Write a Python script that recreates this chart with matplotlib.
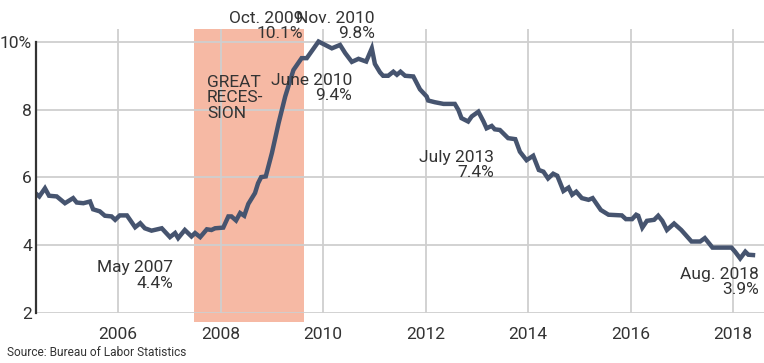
"""Unemployment rate 2004-2018 with the Great Recession shaded."""

import matplotlib

matplotlib.use("Agg")
import matplotlib.pyplot as plt  # noqa: E402

# decimal year, unemployment rate (%)
YEARS = [
    2004.38, 2004.46, 2004.57, 2004.65, 2004.80, 2004.96, 2005.12, 2005.19,
    2005.32, 2005.45, 2005.51, 2005.64, 2005.74, 2005.87, 2005.94, 2006.03,
    2006.17, 2006.23, 2006.33, 2006.43, 2006.52, 2006.65, 2006.85, 2007.01,
    2007.11, 2007.17, 2007.30, 2007.43, 2007.50, 2007.60, 2007.73, 2007.82,
    2007.89, 2008.05, 2008.15, 2008.21, 2008.30, 2008.38, 2008.46, 2008.54,
    2008.67, 2008.73, 2008.79, 2008.88, 2009.00, 2009.13, 2009.26, 2009.42,
    2009.58, 2009.68, 2009.91, 2010.04, 2010.17, 2010.33, 2010.43, 2010.56,
    2010.69, 2010.84, 2010.95, 2011.01, 2011.11, 2011.17, 2011.27, 2011.37,
    2011.44, 2011.51, 2011.60, 2011.76, 2011.89, 2012.02, 2012.05, 2012.18,
    2012.35, 2012.57, 2012.64, 2012.70, 2012.83, 2012.90, 2013.03, 2013.13,
    2013.19, 2013.29, 2013.35, 2013.45, 2013.61, 2013.75, 2013.84, 2013.97,
    2014.10, 2014.21, 2014.30, 2014.39, 2014.49, 2014.57, 2014.69, 2014.79,
    2014.86, 2014.94, 2015.05, 2015.18, 2015.26, 2015.42, 2015.57, 2015.83,
    2015.91, 2016.03, 2016.11, 2016.15, 2016.23, 2016.32, 2016.46, 2016.54,
    2016.62, 2016.71, 2016.85, 2016.99, 2017.19, 2017.36, 2017.45, 2017.60,
    2017.97, 2018.04, 2018.14, 2018.24, 2018.30, 2018.39,
]
RATES = [
    5.54, 5.44, 5.68, 5.46, 5.44, 5.24, 5.39, 5.26,
    5.24, 5.29, 5.06, 5.00, 4.87, 4.85, 4.75, 4.88,
    4.88, 4.75, 4.53, 4.65, 4.50, 4.43, 4.50, 4.24,
    4.36, 4.21, 4.45, 4.26, 4.36, 4.24, 4.47, 4.45,
    4.50, 4.52, 4.85, 4.85, 4.73, 4.95, 4.87, 5.22,
    5.54, 5.83, 6.01, 6.03, 6.72, 7.60, 8.39, 9.17,
    9.52, 9.52, 10.01, 9.91, 9.81, 9.91, 9.67, 9.41,
    9.50, 9.42, 9.81, 9.35, 9.10, 9.00, 9.00, 9.12,
    9.03, 9.12, 9.00, 8.98, 8.60, 8.39, 8.27, 8.22,
    8.17, 8.17, 7.99, 7.75, 7.65, 7.80, 7.94, 7.65,
    7.45, 7.52, 7.42, 7.40, 7.16, 7.13, 6.76, 6.51,
    6.64, 6.22, 6.17, 5.97, 6.11, 6.05, 5.60, 5.70,
    5.49, 5.58, 5.39, 5.34, 5.39, 5.04, 4.90, 4.88,
    4.77, 4.77, 4.90, 4.87, 4.52, 4.72, 4.75, 4.87,
    4.72, 4.45, 4.64, 4.45, 4.11, 4.11, 4.21, 3.93,
    3.93, 3.81, 3.61, 3.81, 3.72, 3.71,
]

RECESSION = (2007.48, 2009.63)
X_TICKS = [2006, 2008, 2010, 2012, 2014, 2016, 2018]
Y_TICKS = [2, 4, 6, 8, 10]
Y_LABELS = ["2", "4", "6", "8", "10%"]

# (text, x, y, ha) callouts
CALLOUTS = [
    ("Oct. 2009\n10.1%", 2009.607, 10.47, "right"),
    ("Nov. 2010\n9.8%", 2011.012, 10.47, "right"),
    ("June 2010\n9.4%", 2010.563, 8.64, "right"),
    ("July 2013\n7.4%", 2013.335, 6.37, "right"),
    ("May 2007\n4.4%", 2007.069, 3.10, "right"),
    ("Aug. 2018\n3.9%", 2018.508, 2.92, "right"),
    ("GREAT\nRECES-\nSION", 2007.733, 8.35, "left"),
]

LINE_COLOR = "#46546f"
SHADE_COLOR = "#f6b9a4"
TEXT_COLOR = "#333333"

plt.rcParams["font.family"] = ["Roboto", "DejaVu Sans"]

fig = plt.figure(figsize=(7.64, 3.63), dpi=100)
ax = fig.add_axes([0.0471, 0.1377, 0.9529, 0.7824])

ax.axvspan(*RECESSION, ymin=-0.032, ymax=1.0, color=SHADE_COLOR,
           linewidth=0, zorder=0.2, clip_on=False)
ax.plot(YEARS, RATES, color=LINE_COLOR, linewidth=3.2,
        solid_joinstyle="miter", zorder=3)

ax.set_xlim(2004.395, 2018.605)
ax.set_ylim(2, 10.38)
ax.set_xticks(X_TICKS)
ax.set_yticks(Y_TICKS)
ax.set_yticklabels(Y_LABELS)
ax.tick_params(axis="both", length=0, labelsize=12.5, colors=TEXT_COLOR)
ax.tick_params(axis="x", pad=10)
ax.tick_params(axis="y", pad=3)

ax.set_axisbelow(True)
ax.grid(True, color="#cfcfcf", linewidth=1.3)

for side in ("top", "right", "bottom"):
    ax.spines[side].set_visible(False)
ax.spines["left"].set_bounds(2, 10)
ax.spines["left"].set_color("#333333")
ax.spines["left"].set_linewidth(1.6)
ax.spines["left"].set_zorder(4)

for text, x, y, ha in CALLOUTS:
    ax.text(x, y, text, ha=ha, va="center", multialignment=ha,
            fontsize=12.5, color=TEXT_COLOR, linespacing=1.05,
            zorder=5, clip_on=False)

fig.text(0.009, 0.03, "Source: Bureau of Labor Statistics",
         fontsize=8.6, color=TEXT_COLOR, ha="left", va="center")

fig.savefig("out.png", dpi=100)
plt.close(fig)
